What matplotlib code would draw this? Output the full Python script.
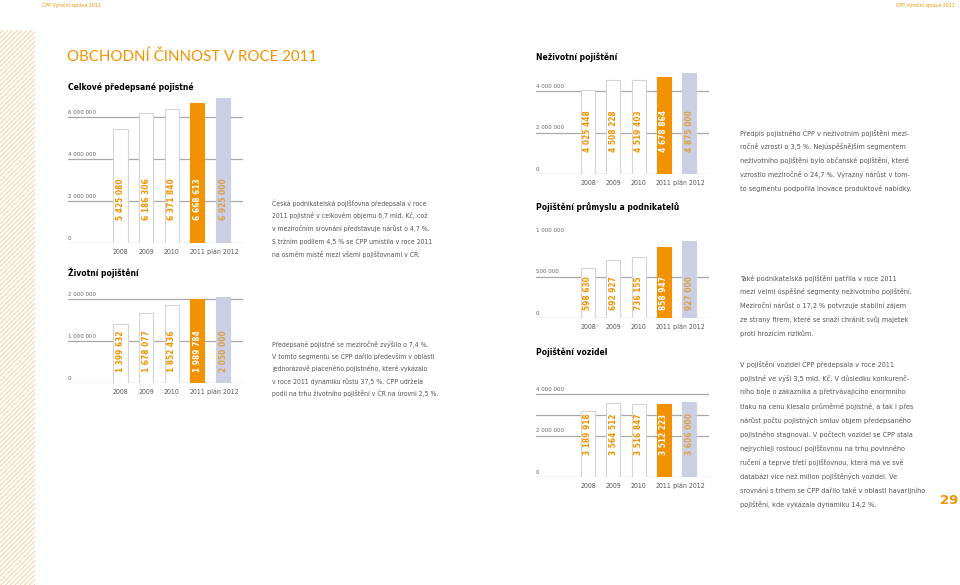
import numpy as np
import matplotlib
matplotlib.use('Agg')
import matplotlib.pyplot as plt
from matplotlib import font_manager
from matplotlib.patches import Rectangle
import matplotlib.transforms as mtransforms

# look for a condensed face, the report uses a narrow font
fam = 'DejaVu Sans'
stretch = 'normal'
for f in font_manager.fontManager.ttflist:
    if f.name in ('DejaVu Sans', 'Noto Sans', 'Roboto', 'Open Sans') and \
            f.stretch in ('condensed', 'semi-condensed', 'extra-condensed'):
        fam, stretch = f.name, f.stretch
        break
wf = 0.88 if stretch != 'normal' else 1.0

plt.rcParams['font.family'] = [fam, 'DejaVu Sans']
plt.rcParams['font.stretch'] = stretch
plt.rcParams['hatch.linewidth'] = 0.7

W, H = 960, 585

# data
years = ['2008', '2009', '2010', '2011', 'plán 2012']
celkem = [5425080, 6186306, 6371840, 6668613, 6925000]
zivotni = [1399632, 1678077, 1852436, 1989784, 2050000]
nezivotni = [4025448, 4508228, 4519403, 4678864, 4875000]
prumysl = [598630, 692927, 736155, 858947, 927000]
vozidla = [3189918, 3564512, 3516847, 3512223, 3606000]

text_celkem = ["Česká podnikatelská pojišťovna předepsala v roce",
               "2011 pojistné v celkovém objemu 6,7 mld. Kč, což",
               "v meziročním srovnání představuje nárůst o 4,7 %.",
               "S tržním podílem 4,5 % se ČPP umístila v roce 2011",
               "na osmém místě mezi všemi pojišťovnami v ČR."]
text_zivot = ["Předepsané pojistné se meziročně zvýšilo o 7,4 %.",
              "V tomto segmentu se ČPP dařilo především v oblasti",
              "jednorázově placeného pojistného, které vykázalo",
              "v roce 2011 dynamiku růstu 37,5 %. ČPP udržela",
              "podíl na trhu životního pojištění v ČR na úrovni 2,5 %."]
text_nezivot = ["Předpis pojistného ČPP v neživotním pojištění mezi-",
                "ročně vzrostl o 3,5 %. Nejúspěšnějším segmentem",
                "neživotního pojištění bylo občanské pojištění, které",
                "vzrostlo meziročně o 24,7 %. Výrazný nárůst v tom-",
                "to segmentu podpořila inovace produktové nabídky."]
text_prumysl = ["Také podnikatelská pojištění patřila v roce 2011",
                "mezi velmi úspěšné segmenty neživotního pojištění.",
                "Meziroční nárůst o 17,2 % potvrzuje stabilní zájem",
                "ze strany firem, které se snaží chránit svůj majetek",
                "proti hrozícím rizikům."]
text_vozidla = ["V pojištění vozidel ČPP předepsala v roce 2011",
                "pojistné ve výši 3,5 mld. Kč. V důsledku konkurenč-",
                "ního boje o zákazníka a přetrvávajícího enormního",
                "tlaku na cenu klesalo průměrné pojistné, a tak i přes",
                "nárůst počtu pojistných smluv objem předepsaného",
                "pojistného stagnoval. V počtech vozidel se ČPP stala",
                "nejrychleji rostoucí pojišťovnou na trhu povinného",
                "ručení a teprve třetí pojišťovnou, která má ve své",
                "databázi více než milion pojištěných vozidel. Ve",
                "srovnání s trhem se ČPP dařilo také v oblasti havarijního",
                "pojištění, kde vykázala dynamiku 14,2 %."]

ORANGE = '#f39200'
LAV = '#cbcfe3'
GRID = '#a8a8a8'

fig = plt.figure(figsize=(9.6, 5.85), dpi=100)
fig.patch.set_facecolor('white')


def fx(x):
    return x / W


def fy(y):
    return 1 - y / H


def ftext(x, y, s, **kw):
    fig.text(fx(x), fy(y), s, **kw)


def fmt(v):
    return f"{v:,}".replace(',', ' ')


def chart(x0, x1, ybase, ppu, ymax, values, ticks, labelled, lab_off):
    ytop = ybase - ymax * ppu
    ax = fig.add_axes([fx(x0), fy(ybase), (x1 - x0) / W, (ybase - ytop) / H])
    ax.set_xlim(-2.05, 4.78)
    ax.set_ylim(0, ymax)
    for s in ax.spines.values():
        s.set_visible(False)
    ax.set_yticks([])
    idx = np.arange(len(values))
    ax.set_xticks(idx, years)
    ax.tick_params(axis='x', length=0, pad=4, labelsize=4.4 / wf, labelcolor='#555555')
    for t in ticks:
        ax.axhline(t, color=GRID, lw=0.9, zorder=1)
    tr = mtransforms.blended_transform_factory(ax.transAxes, ax.transData)
    for t in labelled:
        ax.annotate(fmt(int(t)), (0, t), xycoords=tr, xytext=(0, 1.5),
                    textcoords='offset points', ha='left', va='bottom',
                    fontsize=3.9 / wf, color='#666666')
    fc = ['white', 'white', 'white', ORANGE, LAV]
    ec = ['#d4d4d4', '#d4d4d4', '#d4d4d4', ORANGE, LAV]
    tc = [ORANGE, ORANGE, ORANGE, 'white', '#e0a040']
    ax.bar(idx, values, width=0.55, color=fc, edgecolor=ec, lw=0.8, zorder=2)
    for i, v in enumerate(values):
        ax.annotate(fmt(v), (i, 0), xytext=(0, lab_off * 0.72),
                    textcoords='offset points', rotation=90, ha='center',
                    va='bottom', fontsize=5.2 / wf, fontweight='bold', color=tc[i],
                    zorder=3)
    return ax


# left hatched stripe
fig.patches.append(Rectangle((0, 0), fx(35), fy(30), transform=fig.transFigure,
                             facecolor='none', edgecolor='#f2d49a', hatch='///////',
                             lw=0))

# headers
ftext(42, 5, "ČPP Výroční zpráva 2011", fontsize=3.3 / wf, color=ORANGE, va='center')
ftext(955, 5, "ČPP Výroční zpráva 2011", fontsize=3.3 / wf, color=ORANGE, va='center',
      ha='right')
ftext(67, 57, "OBCHODNÍ ČINNOST V ROCE 2011", fontsize=10.8, color=ORANGE,
      va='center', family=['Lato', 'DejaVu Sans'], fontstretch='normal')

tsz = 5.4 / wf
ftext(68, 87, "Celkové předepsané pojistné", fontsize=tsz, fontweight='bold', va='center')
ftext(68, 273, "Životní pojištění", fontsize=tsz, fontweight='bold', va='center')
ftext(536, 57, "Neživotní pojištění", fontsize=tsz, fontweight='bold', va='center')
ftext(536, 207, "Pojištění průmyslu a podnikatelů", fontsize=tsz, fontweight='bold',
      va='center')
ftext(536, 352, "Pojištění vozidel", fontsize=tsz, fontweight='bold', va='center')

chart(68, 243, 243, 21e-6, 7.0e6, celkem, [0, 2e6, 4e6, 6e6], [0, 2e6, 4e6, 6e6], 23)
chart(68, 243, 383, 42e-6, 2.1e6, zivotni, [0, 1e6, 2e6], [0, 1e6, 2e6], 11)
chart(536, 709, 174, 20.75e-6, 4.95e6, nezivotni, [0, 2e6, 4e6], [0, 2e6, 4e6], 22)
chart(536, 709, 318, 83e-6, 0.95e6, prumysl, [0, 5e5, 1e6], [0, 5e5, 1e6], 8)
chart(536, 709, 477, 20.75e-6, 4.1e6, vozidla, [0, 2e6, 3e6, 4e6], [0, 2e6, 4e6], 22)


def block(x, y, lines, step, size):
    for k, ln in enumerate(lines):
        ftext(x, y + k * step, ln, fontsize=size / wf, color='#555555', va='center')


block(272, 203, text_celkem, 12.7, 4.35)
block(272, 344, text_zivot, 12.3, 4.35)
block(740, 133, text_nezivot, 13.8, 4.6)
block(740, 278, text_prumysl, 13.8, 4.6)
block(740, 364, text_vozidla, 14.0, 4.6)

ftext(958, 500, "29", fontsize=9.5, color=ORANGE, fontweight='bold', ha='right',
      va='center', fontstretch='normal')

fig.savefig('out.png', dpi=100)
